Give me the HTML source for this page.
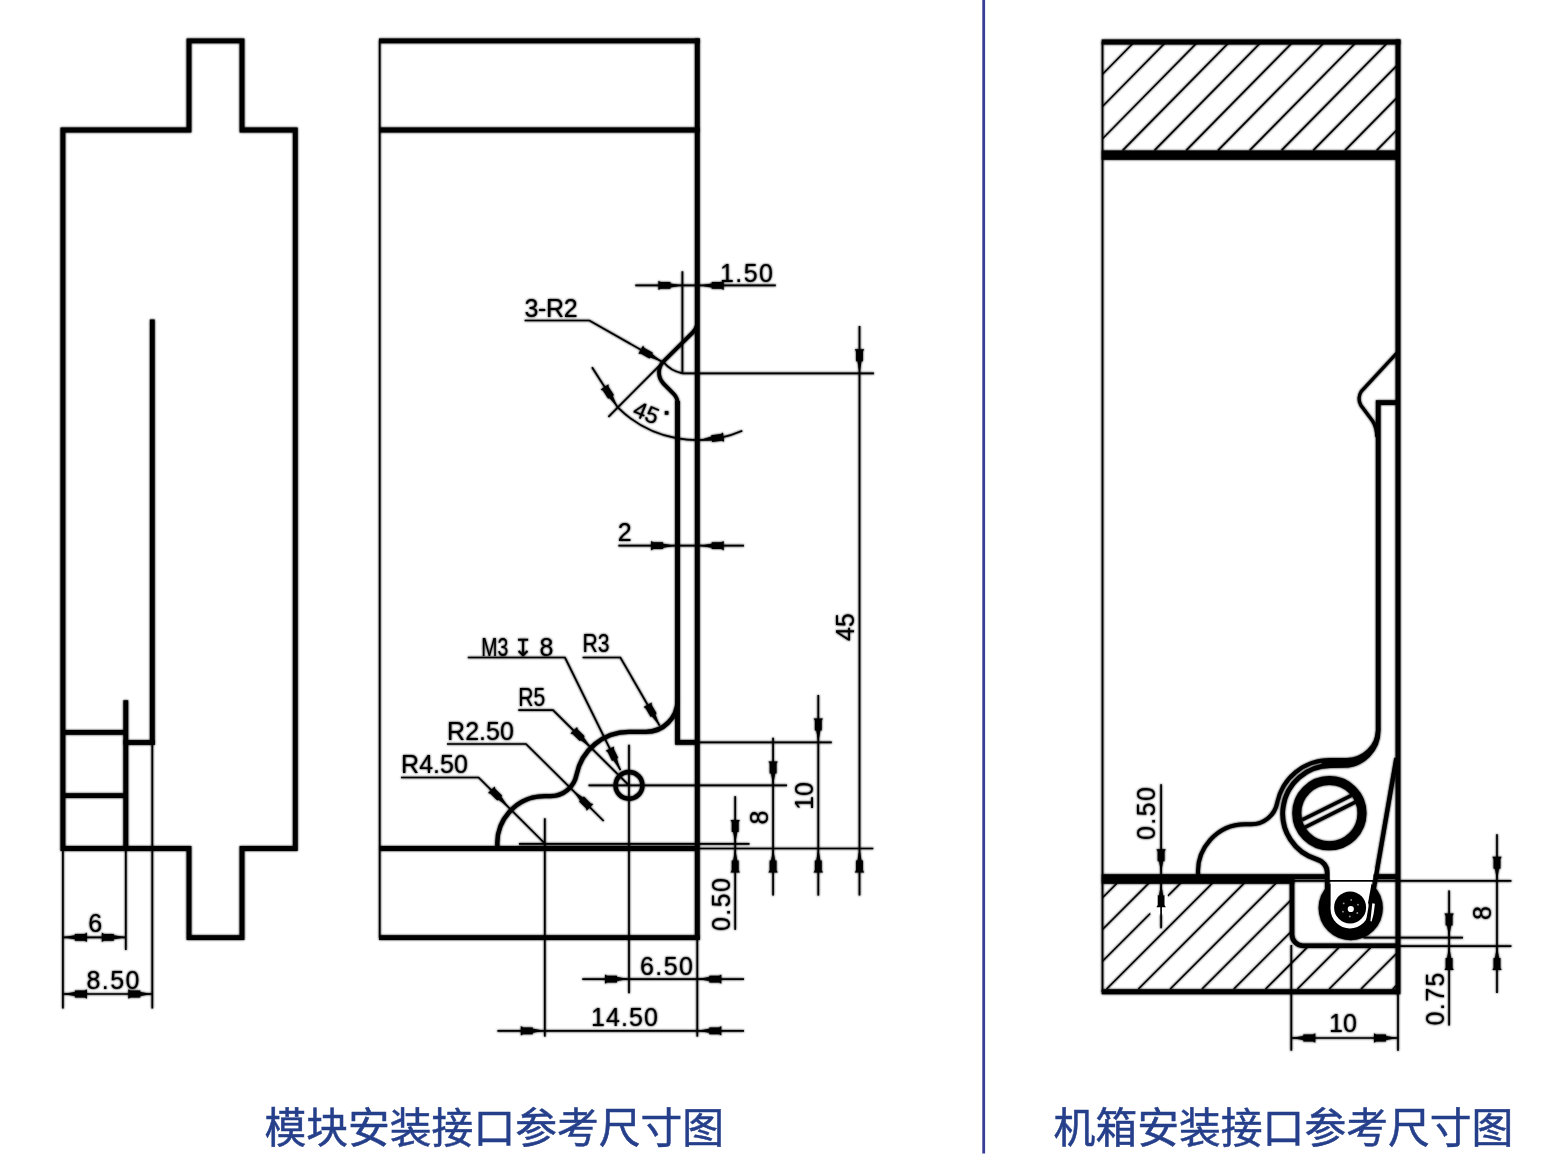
<!DOCTYPE html>
<html><head><meta charset="utf-8"><title>drawing</title>
<style>html,body{margin:0;padding:0;background:#fff;font-family:"Liberation Sans",sans-serif}svg{display:block}</style>
</head><body>
<svg width="1555" height="1156" viewBox="0 0 1555 1156" fill="none" stroke="#000" stroke-linecap="butt">
<defs><filter id="soft" x="0" y="0" width="1555" height="1156" filterUnits="userSpaceOnUse"><feGaussianBlur stdDeviation="0.8"/></filter></defs>
<rect width="1555" height="1156" fill="#fff" stroke="none"/>
<use href="#dr" filter="url(#soft)"/>
<g id="dr">
<path d="M62.9,130H189V40.8H242V130H295.3V848.5H242V937.6H189V848.5H62.9Z" stroke-width="4.8" stroke-linejoin="miter"/>
<line x1="152.3" y1="319.4" x2="152.3" y2="744.8" stroke-width="4.8" />
<line x1="123.5" y1="742.5" x2="154.7" y2="742.5" stroke-width="4.8" />
<line x1="125.8" y1="700.2" x2="125.8" y2="848.5" stroke-width="4.8" />
<line x1="62.9" y1="732.3" x2="125.8" y2="732.3" stroke-width="4.8" />
<line x1="62.9" y1="795.6" x2="125.8" y2="795.6" stroke-width="4.8" />
<line x1="62.9" y1="848.0" x2="62.9" y2="1008.5" stroke-width="1.7" />
<line x1="125.8" y1="848.0" x2="125.8" y2="950.0" stroke-width="1.7" />
<line x1="152.3" y1="744.0" x2="152.3" y2="1008.5" stroke-width="1.7" />
<line x1="62.9" y1="937.3" x2="125.8" y2="937.3" stroke-width="1.7" />
<polygon points="62.9,937.3 74.9,935.3 74.9,933.9 84.7,933.9 86.9,932.6 86.9,942.0 84.7,940.7 74.9,940.7 74.9,939.3" fill="#000" stroke="none"/>
<polygon points="125.8,937.3 113.8,939.3 113.8,940.7 104.0,940.7 101.8,942.0 101.8,932.6 104.0,933.9 113.8,933.9 113.8,935.3" fill="#000" stroke="none"/>
<text transform="translate(88.2,932.0)" font-family="'Liberation Sans',sans-serif" font-size="25" fill="#000" stroke="none">6</text>
<line x1="62.9" y1="994.0" x2="152.3" y2="994.0" stroke-width="1.7" />
<polygon points="62.9,994.0 74.9,992.0 74.9,990.6 84.7,990.6 86.9,989.3 86.9,998.7 84.7,997.4 74.9,997.4 74.9,996.0" fill="#000" stroke="none"/>
<polygon points="152.3,994.0 140.3,996.0 140.3,997.4 130.5,997.4 128.3,998.7 128.3,989.3 130.5,990.6 140.3,990.6 140.3,992.0" fill="#000" stroke="none"/>
<text transform="translate(86.5,989.0)" font-family="'Liberation Sans',sans-serif" font-size="25" fill="#000" stroke="none" textLength="53" lengthAdjust="spacing">8.50</text>
<line x1="379.7" y1="40.8" x2="379.7" y2="937.6" stroke-width="1.7" />
<line x1="379.0" y1="40.8" x2="699.7" y2="40.8" stroke-width="4.8" />
<line x1="379.0" y1="130.0" x2="699.7" y2="130.0" stroke-width="4.8" />
<line x1="697.3" y1="38.4" x2="697.3" y2="940.0" stroke-width="4.8" />
<line x1="379.0" y1="937.6" x2="699.7" y2="937.6" stroke-width="4.8" />
<line x1="379.0" y1="848.5" x2="697.3" y2="848.5" stroke-width="4.8" />
<path d="M697.3,321.3A16,16 0 0 1 692.6,332.6L663.7,361.3A16,16 0 0 0 663.7,383.9L673.5,393.7A14,14 0 0 1 677.6,403.6" stroke-width="3.7" />
<path d="M677.5,401V742.4H697.3" stroke-width="4.8" stroke-linejoin="miter"/>
<path d="M497.6,848.5A47.4,47.4 0 0 1 544.8,796.1L550.7,796.1A26.3,26.3 0 0 0 576.5,774.9A53.5,53.5 0 0 1 629,731.9L645.9,731.9A31.6,31.6 0 0 0 677.5,700.3" stroke-width="4.3" />
<circle cx="629" cy="785.4" r="13.4" stroke-width="4.4"/>
<line x1="682.4" y1="271.3" x2="682.4" y2="373.3" stroke-width="1.7" />
<line x1="682.4" y1="373.3" x2="874.0" y2="373.3" stroke-width="1.7" />
<line x1="663.7" y1="361.3" x2="608.4" y2="416.8" stroke-width="1.7" />
<path d="M663.2,361.8Q670.5,371 682.4,373.3" stroke-width="1.7" />
<line x1="635.3" y1="285.4" x2="775.8" y2="285.4" stroke-width="1.7" />
<polygon points="682.4,285.4 670.4,287.4 670.4,288.8 660.6,288.8 658.4,290.1 658.4,280.7 660.6,282.0 670.4,282.0 670.4,283.4" fill="#000" stroke="none"/>
<polygon points="699.7,285.4 711.7,283.4 711.7,282.0 721.5,282.0 723.7,280.7 723.7,290.1 721.5,288.8 711.7,288.8 711.7,287.4" fill="#000" stroke="none"/>
<text transform="translate(720.0,281.5)" font-family="'Liberation Sans',sans-serif" font-size="25" fill="#000" stroke="none" textLength="53" lengthAdjust="spacing">1.50</text>
<text transform="translate(524.6,316.5)" font-family="'Liberation Sans',sans-serif" font-size="25" fill="#000" stroke="none" textLength="53" lengthAdjust="spacing">3-R2</text>
<path d="M524.6,320.5H589.4L661.6,361.6" stroke-width="1.7" />
<polygon points="661.6,361.6 650.2,357.4 649.5,358.6 641.0,353.8 638.4,353.8 643.1,345.6 644.3,347.9 652.9,352.7 652.2,353.9" fill="#000" stroke="none"/>
<path d="M617.5,407.1A112.8,112.8 0 0 0 742.3,430.7" stroke-width="1.7" />
<line x1="592.0" y1="367.3" x2="617.5" y2="407.1" stroke-width="1.7" />
<polygon points="617.5,407.1 609.3,398.1 608.2,398.8 602.9,390.6 600.6,389.4 608.5,384.3 608.6,386.9 613.9,395.1 612.8,395.9" fill="#000" stroke="none"/>
<polygon points="699.7,440.0 711.4,436.5 711.2,435.2 720.9,434.0 723.0,432.5 724.1,441.8 721.7,440.8 712.0,441.9 711.9,440.6" fill="#000" stroke="none"/>
<text transform="translate(631.5,415.2) rotate(22)" font-family="'Liberation Sans',sans-serif" font-size="23" fill="#000" stroke="none">45</text>
<rect x="664.8" y="411.1" width="3.6" height="3.6" fill="#000" stroke="none"/>
<line x1="618.4" y1="545.7" x2="744.0" y2="545.7" stroke-width="1.7" />
<polygon points="675.1,545.7 663.1,547.7 663.1,549.1 653.3,549.1 651.1,550.4 651.1,541.0 653.3,542.3 663.1,542.3 663.1,543.7" fill="#000" stroke="none"/>
<polygon points="699.7,545.7 711.7,543.7 711.7,542.3 721.5,542.3 723.7,541.0 723.7,550.4 721.5,549.1 711.7,549.1 711.7,547.7" fill="#000" stroke="none"/>
<text transform="translate(617.8,541.0)" font-family="'Liberation Sans',sans-serif" font-size="25" fill="#000" stroke="none">2</text>
<text transform="translate(481.3,655.5)" font-family="'Liberation Sans',sans-serif" font-size="25" fill="#000" stroke="none" textLength="27" lengthAdjust="spacingAndGlyphs">M3</text>
<text transform="translate(513.0,655.5)" font-family="'DejaVu Sans',sans-serif" font-size="24" fill="#000" stroke="none">↧</text>
<text transform="translate(539.5,655.5)" font-family="'Liberation Sans',sans-serif" font-size="25" fill="#000" stroke="none">8</text>
<path d="M467.8,657.5H565L620.4,770.2" stroke-width="1.7" />
<polygon points="620.4,770.2 613.3,760.3 612.1,760.9 607.7,752.1 605.6,750.7 614.0,746.6 613.8,749.1 618.2,757.9 616.9,758.5" fill="#000" stroke="none"/>
<text transform="translate(582.6,652.0)" font-family="'Liberation Sans',sans-serif" font-size="25" fill="#000" stroke="none" textLength="27" lengthAdjust="spacingAndGlyphs">R3</text>
<path d="M582.6,657.5H620.4L659.6,725.6" stroke-width="1.7" />
<polygon points="659.6,725.6 651.8,716.2 650.7,716.9 645.8,708.4 643.6,707.1 651.7,702.5 651.7,705.0 656.6,713.5 655.4,714.2" fill="#000" stroke="none"/>
<text transform="translate(518.3,705.5)" font-family="'Liberation Sans',sans-serif" font-size="25" fill="#000" stroke="none" textLength="27" lengthAdjust="spacingAndGlyphs">R5</text>
<path d="M518.3,710.2H553L629,785.4" stroke-width="1.7" />
<polygon points="590.7,747.2 580.8,740.2 579.8,741.1 572.9,734.2 570.4,733.6 577.1,726.9 577.7,729.4 584.6,736.3 583.7,737.3" fill="#000" stroke="none"/>
<text transform="translate(447.0,740.0)" font-family="'Liberation Sans',sans-serif" font-size="25" fill="#000" stroke="none" textLength="67" lengthAdjust="spacing">R2.50</text>
<path d="M447,744H526L603.7,821" stroke-width="1.7" />
<polygon points="573.0,790.5 582.9,797.5 583.9,796.6 590.8,803.5 593.3,804.1 586.6,810.8 586.0,808.3 579.1,801.4 580.0,800.4" fill="#000" stroke="none"/>
<text transform="translate(401.0,773.0)" font-family="'Liberation Sans',sans-serif" font-size="25" fill="#000" stroke="none" textLength="67" lengthAdjust="spacing">R4.50</text>
<path d="M401,777.5H478.6L544.8,843.5" stroke-width="1.7" />
<polygon points="508.3,806.7 498.4,799.7 497.4,800.6 490.5,793.7 488.0,793.1 494.7,786.4 495.3,788.9 502.2,795.8 501.3,796.8" fill="#000" stroke="none"/>
<line x1="544.8" y1="818.3" x2="544.8" y2="1036.6" stroke-width="1.7" />
<line x1="629.0" y1="744.8" x2="629.0" y2="993.2" stroke-width="1.7" />
<line x1="588.5" y1="785.4" x2="787.0" y2="785.4" stroke-width="1.7" />
<line x1="519.0" y1="843.9" x2="749.5" y2="843.9" stroke-width="1.7" />
<line x1="697.3" y1="742.4" x2="831.8" y2="742.4" stroke-width="1.7" />
<line x1="697.3" y1="848.5" x2="873.3" y2="848.5" stroke-width="1.7" />
<line x1="697.3" y1="937.6" x2="697.3" y2="1036.6" stroke-width="1.7" />
<line x1="735.2" y1="796.2" x2="735.2" y2="929.8" stroke-width="1.7" />
<polygon points="735.2,843.9 733.2,831.9 731.8,831.9 731.8,822.1 730.5,819.9 739.9,819.9 738.6,822.1 738.6,831.9 737.2,831.9" fill="#000" stroke="none"/>
<polygon points="735.2,848.5 737.2,860.5 738.6,860.5 738.6,870.3 739.9,872.5 730.5,872.5 731.8,870.3 731.8,860.5 733.2,860.5" fill="#000" stroke="none"/>
<text transform="translate(730.0,931.0) rotate(-90)" font-family="'Liberation Sans',sans-serif" font-size="25" fill="#000" stroke="none" textLength="53" lengthAdjust="spacing">0.50</text>
<line x1="773.1" y1="737.8" x2="773.1" y2="895.6" stroke-width="1.7" />
<polygon points="773.1,785.4 771.1,773.4 769.7,773.4 769.7,763.6 768.4,761.4 777.8,761.4 776.5,763.6 776.5,773.4 775.1,773.4" fill="#000" stroke="none"/>
<polygon points="773.1,848.5 775.1,860.5 776.5,860.5 776.5,870.3 777.8,872.5 768.4,872.5 769.7,870.3 769.7,860.5 771.1,860.5" fill="#000" stroke="none"/>
<text transform="translate(767.5,824.5) rotate(-90)" font-family="'Liberation Sans',sans-serif" font-size="25" fill="#000" stroke="none">8</text>
<line x1="818.3" y1="695.0" x2="818.3" y2="895.6" stroke-width="1.7" />
<polygon points="818.3,742.4 816.3,730.4 814.9,730.4 814.9,720.6 813.6,718.4 823.0,718.4 821.7,720.6 821.7,730.4 820.3,730.4" fill="#000" stroke="none"/>
<polygon points="818.3,848.5 820.3,860.5 821.7,860.5 821.7,870.3 823.0,872.5 813.6,872.5 814.9,870.3 814.9,860.5 816.3,860.5" fill="#000" stroke="none"/>
<text transform="translate(813.0,810.0) rotate(-90)" font-family="'Liberation Sans',sans-serif" font-size="25" fill="#000" stroke="none">10</text>
<line x1="859.5" y1="326.0" x2="859.5" y2="895.6" stroke-width="1.7" />
<polygon points="859.5,373.3 857.5,361.3 856.1,361.3 856.1,351.5 854.8,349.3 864.2,349.3 862.9,351.5 862.9,361.3 861.5,361.3" fill="#000" stroke="none"/>
<polygon points="859.5,848.5 861.5,860.5 862.9,860.5 862.9,870.3 864.2,872.5 854.8,872.5 856.1,870.3 856.1,860.5 857.5,860.5" fill="#000" stroke="none"/>
<text transform="translate(853.5,641.0) rotate(-90)" font-family="'Liberation Sans',sans-serif" font-size="25" fill="#000" stroke="none">45</text>
<line x1="582.3" y1="979.1" x2="744.0" y2="979.1" stroke-width="1.7" />
<polygon points="629.0,979.1 617.0,981.1 617.0,982.5 607.2,982.5 605.0,983.8 605.0,974.4 607.2,975.7 617.0,975.7 617.0,977.1" fill="#000" stroke="none"/>
<polygon points="697.3,979.1 709.3,977.1 709.3,975.7 719.1,975.7 721.3,974.4 721.3,983.8 719.1,982.5 709.3,982.5 709.3,981.1" fill="#000" stroke="none"/>
<text transform="translate(640.0,975.0)" font-family="'Liberation Sans',sans-serif" font-size="25" fill="#000" stroke="none" textLength="53" lengthAdjust="spacing">6.50</text>
<line x1="497.4" y1="1030.8" x2="744.0" y2="1030.8" stroke-width="1.7" />
<polygon points="544.8,1030.8 532.8,1032.8 532.8,1034.2 523.0,1034.2 520.8,1035.5 520.8,1026.1 523.0,1027.4 532.8,1027.4 532.8,1028.8" fill="#000" stroke="none"/>
<polygon points="697.3,1030.8 709.3,1028.8 709.3,1027.4 719.1,1027.4 721.3,1026.1 721.3,1035.5 719.1,1034.2 709.3,1034.2 709.3,1032.8" fill="#000" stroke="none"/>
<text transform="translate(591.0,1026.3)" font-family="'Liberation Sans',sans-serif" font-size="25" fill="#000" stroke="none" textLength="67" lengthAdjust="spacing">14.50</text>
<clipPath id="c1"><rect x="1102.5" y="42" width="295.5" height="113"/></clipPath>
<path d="M964.0,150.4l197,-200M995.7,150.4l197,-200M1027.5,150.4l197,-200M1059.2,150.4l197,-200M1091.0,150.4l197,-200M1122.7,150.4l197,-200M1154.5,150.4l197,-200M1186.2,150.4l197,-200M1218.0,150.4l197,-200M1249.7,150.4l197,-200M1281.5,150.4l197,-200M1313.2,150.4l197,-200M1345.0,150.4l197,-200M1376.7,150.4l197,-200M1408.5,150.4l197,-200M1440.2,150.4l197,-200M1472.0,150.4l197,-200" stroke-width="1.5" clip-path="url(#c1)"/>
<line x1="1102.5" y1="42.0" x2="1102.5" y2="992.0" stroke-width="1.7" />
<line x1="1101.7" y1="42.0" x2="1400.4" y2="42.0" stroke-width="4.8" />
<line x1="1398.0" y1="39.6" x2="1398.0" y2="994.2" stroke-width="4.8" />
<line x1="1101.7" y1="155.1" x2="1398.0" y2="155.1" stroke-width="9.4" />
<clipPath id="c2"><path d="M1102.5,883H1292V945.7H1398V992H1102.5Z"/></clipPath>
<path d="M947.6,989l200,-200M979.4,989l200,-200M1011.2,989l200,-200M1043.0,989l200,-200M1074.8,989l200,-200M1106.6,989l200,-200M1138.4,989l200,-200M1170.2,989l200,-200M1202.0,989l200,-200M1233.8,989l200,-200M1265.6,989l200,-200M1297.4,989l200,-200M1329.2,989l200,-200M1361.0,989l200,-200M1392.8,989l200,-200M1424.6,989l200,-200M1456.4,989l200,-200M1488.2,989l200,-200" stroke-width="1.5" clip-path="url(#c2)"/>
<rect x="1150.3" y="895.3" width="17.6" height="18.6" fill="#fff" stroke="none"/>
<g transform="translate(700.7,28.1)">
<path d="M497.6,848.5A47.4,47.4 0 0 1 544.8,796.1L550.7,796.1A26.3,26.3 0 0 0 576.5,774.9A53.5,53.5 0 0 1 629,731.9L645.9,731.9A31.6,31.6 0 0 0 677.5,700.3" stroke-width="4.0" />
</g>
<path d="M1397.8,352L1361.3,391.3Q1357,398.5 1360.8,405.2L1372.6,421Q1376.6,427 1376.8,437" stroke-width="3.2" stroke-linejoin="round"/>
<line x1="1101.7" y1="876.6" x2="1327.3" y2="876.6" stroke-width="4.8" />
<line x1="1373.5" y1="876.6" x2="1398.0" y2="876.6" stroke-width="4.8" />
<line x1="1101.7" y1="881.2" x2="1294.3" y2="881.2" stroke-width="5" />
<line x1="1292.0" y1="880.8" x2="1511.4" y2="880.8" stroke-width="1.7" />
<path d="M1292,880V934.7A11,11 0 0 0 1303,945.7H1398" stroke-width="4.6" />
<line x1="1101.7" y1="991.8" x2="1398.0" y2="991.8" stroke-width="5" />
<circle cx="1350.7" cy="908.1" r="32.1" fill="#000" stroke="none"/>
<path d="M1330.6,870H1374L1367,908.4H1330.6Z" fill="#fff" stroke="none"/>
<circle cx="1349.9" cy="909.2" r="19.3" fill="#fff" stroke="none"/>
<line x1="1327.3" y1="880.8" x2="1376.0" y2="880.8" stroke-width="1.7" />
<circle cx="1350.1" cy="907.4" r="16" fill="#000" stroke="none"/>
<circle cx="1350.8" cy="909" r="3.1" fill="#fff" stroke="none"/>
<circle cx="1357.3" cy="913.0" r="0.9" fill="#999" stroke="none"/>
<circle cx="1349.8" cy="916.5" r="0.9" fill="#999" stroke="none"/>
<circle cx="1343.0" cy="911.7" r="0.9" fill="#999" stroke="none"/>
<circle cx="1343.7" cy="903.4" r="0.9" fill="#999" stroke="none"/>
<circle cx="1351.2" cy="899.9" r="0.9" fill="#999" stroke="none"/>
<circle cx="1358.0" cy="904.7" r="0.9" fill="#999" stroke="none"/>
<path d="M1398,402.7H1378.2V730.5A35,35 0 0 1 1343.2,765.5L1330.3,765.7A47.8,47.8 0 0 0 1317.15,859.4A14,14 0 0 1 1327.3,872.9V892" stroke-width="4.7" stroke-linejoin="miter"/>
<path d="M1396.4,758L1367.6,924.6" stroke-width="4.3" />
<path d="M1378.2,729.5A33.3,33.3 0 0 1 1344.9,762.8L1322,762.8" stroke-width="3" />
<path d="M1372.3,903.2L1374.9,903.8L1373.6,914L1371.6,921.6L1370.4,921Z" fill="#fff" stroke="none"/>
<circle cx="1329.4" cy="813.2" r="32.6" stroke-width="9"/>
<line x1="1302.3" y1="819.7" x2="1351.3" y2="795.5" stroke-width="3.4" />
<line x1="1304.6" y1="827.5" x2="1356.0" y2="801.8" stroke-width="3.4" />
<line x1="1363.5" y1="937.6" x2="1463.0" y2="937.6" stroke-width="1.7" />
<line x1="1398.0" y1="946.1" x2="1511.4" y2="946.1" stroke-width="1.7" />
<line x1="1291.3" y1="945.0" x2="1291.3" y2="1050.7" stroke-width="1.7" />
<line x1="1398.0" y1="992.0" x2="1398.0" y2="1050.7" stroke-width="1.7" />
<line x1="1449.1" y1="890.4" x2="1449.1" y2="1025.5" stroke-width="1.7" />
<polygon points="1449.1,937.6 1447.1,925.6 1445.7,925.6 1445.7,915.8 1444.4,913.6 1453.8,913.6 1452.5,915.8 1452.5,925.6 1451.1,925.6" fill="#000" stroke="none"/>
<polygon points="1449.1,946.1 1451.1,958.1 1452.5,958.1 1452.5,967.9 1453.8,970.1 1444.4,970.1 1445.7,967.9 1445.7,958.1 1447.1,958.1" fill="#000" stroke="none"/>
<text transform="translate(1443.5,1025.5) rotate(-90)" font-family="'Liberation Sans',sans-serif" font-size="25" fill="#000" stroke="none" textLength="53" lengthAdjust="spacing">0.75</text>
<line x1="1497.0" y1="834.2" x2="1497.0" y2="992.9" stroke-width="1.7" />
<polygon points="1497.0,880.8 1495.0,868.8 1493.6,868.8 1493.6,859.0 1492.3,856.8 1501.7,856.8 1500.4,859.0 1500.4,868.8 1499.0,868.8" fill="#000" stroke="none"/>
<polygon points="1497.0,946.1 1499.0,958.1 1500.4,958.1 1500.4,967.9 1501.7,970.1 1492.3,970.1 1493.6,967.9 1493.6,958.1 1495.0,958.1" fill="#000" stroke="none"/>
<text transform="translate(1491.0,920.0) rotate(-90)" font-family="'Liberation Sans',sans-serif" font-size="25" fill="#000" stroke="none">8</text>
<line x1="1291.3" y1="1038.0" x2="1398.0" y2="1038.0" stroke-width="1.7" />
<polygon points="1291.3,1038.0 1303.3,1036.0 1303.3,1034.6 1313.1,1034.6 1315.3,1033.3 1315.3,1042.7 1313.1,1041.4 1303.3,1041.4 1303.3,1040.0" fill="#000" stroke="none"/>
<polygon points="1398.0,1038.0 1386.0,1040.0 1386.0,1041.4 1376.2,1041.4 1374.0,1042.7 1374.0,1033.3 1376.2,1034.6 1386.0,1034.6 1386.0,1036.0" fill="#000" stroke="none"/>
<text transform="translate(1329.0,1032.0)" font-family="'Liberation Sans',sans-serif" font-size="25" fill="#000" stroke="none">10</text>
<line x1="1161.1" y1="784.3" x2="1161.1" y2="928.2" stroke-width="1.7" />
<polygon points="1161.1,873.2 1159.1,861.2 1157.7,861.2 1157.7,851.4 1156.4,849.2 1165.8,849.2 1164.5,851.4 1164.5,861.2 1163.1,861.2" fill="#000" stroke="none"/>
<polygon points="1161.1,883.2 1163.1,895.2 1164.5,895.2 1164.5,905.0 1165.8,907.2 1156.4,907.2 1157.7,905.0 1157.7,895.2 1159.1,895.2" fill="#000" stroke="none"/>
<text transform="translate(1155.0,840.0) rotate(-90)" font-family="'Liberation Sans',sans-serif" font-size="25" fill="#000" stroke="none" textLength="53" lengthAdjust="spacing">0.50</text>
</g>
<line x1="983.7" y1="0" x2="983.7" y2="1153.6" stroke="#3a3d98" stroke-width="2.8"/>
<text x="264.4" y="1142.7" font-family="'Liberation Sans','Noto Sans CJK SC',sans-serif" font-size="41.8" fill="#253f8b" stroke="#253f8b" stroke-width="0.5">模块安装接口参考尺寸图</text>
<text x="1053.6" y="1142.7" font-family="'Liberation Sans','Noto Sans CJK SC',sans-serif" font-size="41.8" fill="#253f8b" stroke="#253f8b" stroke-width="0.5">机箱安装接口参考尺寸图</text>
</svg>
</body></html>
